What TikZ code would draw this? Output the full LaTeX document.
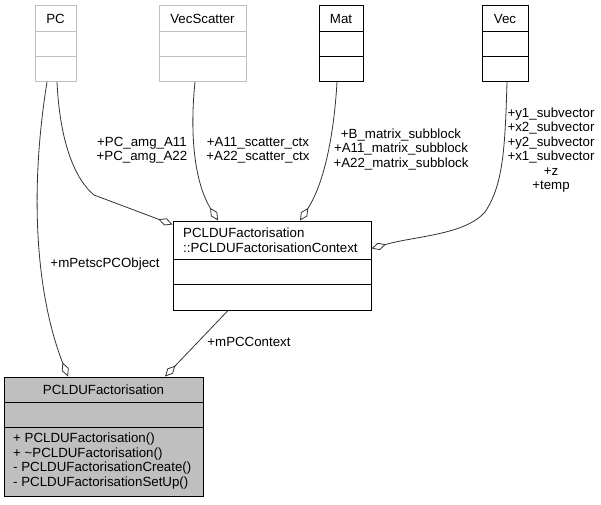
\documentclass[tikz,border=0pt]{standalone}
\usepackage{fontspec}
\setmainfont{Liberation Sans}
\usetikzlibrary{arrows.meta}
\definecolor{dxgrey}{HTML}{BFBFBF}
\begin{document}
\begin{tikzpicture}[x=1pt,y=-1pt,
  every node/.style={font=\fontsize{13.3}{14.5}\selectfont, inner sep=0pt},
  cbox/.style={draw=black, fill=white, line width=1pt},
  gbox/.style={draw=dxgrey, fill=white, line width=1pt},
  mbox/.style={draw=black, fill=dxgrey, line width=1pt},
  sepblack/.style={draw=black, line width=1pt},
  sepgrey/.style={draw=dxgrey, line width=1pt},
  edge/.style={draw=black!80, line width=0.8pt, -{Diamond[open, length=15pt, width=7.5pt, line width=0.8pt]}},
  lbl/.style={align=center}]
\useasboundingbox (0,0) rectangle (601,504);

% top classes
\node[gbox, minimum width=41pt, minimum height=76pt] (pc) at (55.5,43.5) {};
\node[gbox, minimum width=87pt, minimum height=76pt] (vs) at (202.5,43.5) {};
\node[cbox, minimum width=44pt, minimum height=76pt] (mat) at (341,43.5) {};
\node[cbox, minimum width=46pt, minimum height=76pt] (vec) at (505,43.5) {};
\foreach \n/\s in {pc/sepgrey, vs/sepgrey, mat/sepblack, vec/sepblack}{
  \draw[\s] ([yshift=-26pt]\n.north west) -- ([yshift=-26pt]\n.north east);
  \draw[\s] ([yshift=-51pt]\n.north west) -- ([yshift=-51pt]\n.north east);
}
\node (pct) at (55.5,19) {PC};
\node (vst) at (202.5,19) {VecScatter};
\node (matt) at (341,19) {Mat};
\node (vect) at (505,19) {Vec};

% context class
\node[cbox, minimum width=198pt, minimum height=89pt] (ctx) at (272,265.5) {};
\draw[sepblack] ([yshift=-39pt]ctx.north west) -- ([yshift=-39pt]ctx.north east);
\draw[sepblack] ([yshift=-64pt]ctx.north west) -- ([yshift=-64pt]ctx.north east);
\node[anchor=west, align=left] (ctxt) at (183,240) {PCLDUFactorisation\\::PCLDUFactorisationContext};

% main class
\node[mbox, minimum width=199pt, minimum height=119pt] (main) at (103.5,436.5) {};
\draw[sepblack] ([yshift=-25.5pt]main.north west) -- ([yshift=-25.5pt]main.north east);
\draw[sepblack] ([yshift=-50.5pt]main.north west) -- ([yshift=-50.5pt]main.north east);
\node (maint) at (103.5,389.5) {PCLDUFactorisation};
\node[anchor=west, align=left] (mainm) at (13,461) {+ PCLDUFactorisation()\\+ \textasciitilde PCLDUFactorisation()\\- PCLDUFactorisationCreate()\\- PCLDUFactorisationSetUp()};

% connectors
\draw[edge] ([xshift=-8.5pt]pc.south) .. controls (28,200) and (38,300) .. ([xshift=-35.5pt]main.north);
\draw[edge] ([xshift=1.5pt]pc.south) .. controls (60,145) and (76,180) .. (94,195) -- ([yshift=-4pt]ctx.north west);
\draw[edge] ([xshift=-7.5pt]vs.south) .. controls (189,140) and (196,185) .. ([xshift=-54pt]ctx.north);
\draw[edge] ([xshift=-4pt]mat.south) .. controls (333,150) and (320,190) .. ([xshift=28pt]ctx.north);
\draw[edge] ([xshift=2pt]vec.south) .. controls (505,150) and (503,185) .. (485,212) .. controls (465,235) and (415,236) .. ([yshift=-28pt]ctx.north east);
\draw[edge] ([xshift=-44pt]ctx.south) -- ([xshift=61.5pt]main.north);

% labels
\node[lbl] (l1) at (105,264) {+mPetscPCObject};
\node[lbl] (l2) at (142,150) {+PC\_amg\_A11\\+PC\_amg\_A22};
\node[lbl] (l3) at (258,150) {+A11\_scatter\_ctx\\+A22\_scatter\_ctx};
\node[lbl] (l4) at (401,149) {+B\_matrix\_subblock\\+A11\_matrix\_subblock\\+A22\_matrix\_subblock};
\node[lbl] (l5) at (551,150) {+y1\_subvector\\+x2\_subvector\\+y2\_subvector\\+x1\_subvector\\+z\\+temp};
\node[lbl] (l6) at (249,342) {+mPCContext};
\end{tikzpicture}
\end{document}
